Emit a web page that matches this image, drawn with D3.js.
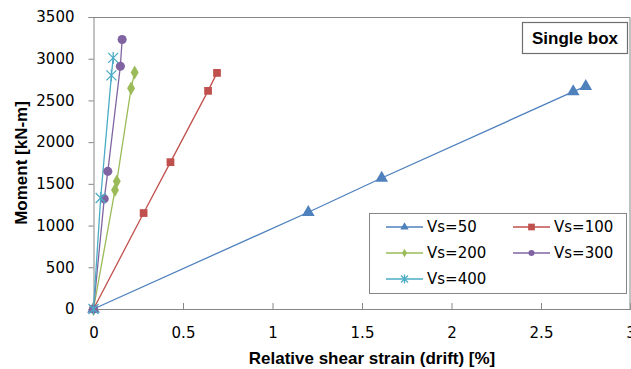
<!DOCTYPE html>
<html>
<head>
<meta charset="utf-8">
<script src="https://cdn.jsdelivr.net/npm/d3@7"></script>
<style>
  body { margin: 0; background: #fff; }
</style>
</head>
<body>
<div id="chart"></div>
<script>
// data
var seriesNames = ["Vs=50", "Vs=100", "Vs=200", "Vs=300", "Vs=400"];
var vs50  = [[0, 0], [1.20, 1160], [1.61, 1570], [2.68, 2605], [2.75, 2670]];
var vs100 = [[0, 0], [0.28, 1150], [0.43, 1760], [0.64, 2615], [0.69, 2830]];
var vs200 = [[0, 0], [0.12, 1425], [0.13, 1530], [0.21, 2645], [0.23, 2835]];
var vs300 = [[0, 0], [0.06, 1320], [0.08, 1650], [0.15, 2910], [0.16, 3230]];
var vs400 = [[0, 0], [0.04, 1330], [0.10, 2800], [0.11, 3010]];
var xTicks = [0, 0.5, 1, 1.5, 2, 2.5, 3];
var yTicks = [0, 500, 1000, 1500, 2000, 2500, 3000, 3500];

var colors = ["#4f81bd", "#c0504d", "#9bbb59", "#8064a2", "#4bacc6"];
var symbols = [d3.symbolTriangle, d3.symbolSquare, d3.symbolDiamond, d3.symbolCircle, d3.symbolCross];
var sizes = [70, 60, 55, 65, 60];
var legendSizes = [30, 45, 22, 30, 30];
var allData = [vs50, vs100, vs200, vs300, vs400];

var W = 631, H = 369;
var margin = { top: 17, right: 0.5, bottom: 60, left: 93.5 },
    width = W - margin.left - margin.right,
    height = H - margin.top - margin.bottom;

var svg = d3.select("#chart")
    .append("svg")
    .attr("width", W)
    .attr("height", H)
    .append("g")
    .attr("transform", "translate(" + margin.left + "," + margin.top + ")");

var x = d3.scaleLinear().domain([0, 3]).range([0, width]);
var y = d3.scaleLinear().domain([0, 3500]).range([height, 0]);

var axisColor = "#868686";
var tickFont = "'DejaVu Sans', Verdana, sans-serif";
var titleFont = "'Liberation Sans', Arial, sans-serif";

// frame top and right lines
svg.append("path")
    .attr("d", "M0,0.5H" + (width - 0.5) + "V" + height)
    .attr("fill", "none")
    .attr("stroke", axisColor);

// Y axis
var yAxis = svg.append("g")
    .call(d3.axisLeft(y).tickValues(yTicks).tickSize(5).tickPadding(14).tickFormat(d3.format("d")));
yAxis.select(".domain").attr("stroke", axisColor);
yAxis.selectAll(".tick line").attr("stroke", axisColor);
yAxis.selectAll("text")
    .style("font-family", tickFont)
    .style("font-size", "15px")
    .attr("fill", "#000");

// X axis
var xAxis = svg.append("g")
    .attr("transform", "translate(0," + height + ")")
    .call(d3.axisBottom(x).tickValues(xTicks).tickSize(-6).tickPadding(18).tickFormat(function (d) { return d; }));
xAxis.select(".domain").attr("stroke", axisColor);
xAxis.selectAll(".tick line").attr("stroke", axisColor);
xAxis.selectAll("text")
    .style("font-family", tickFont)
    .style("font-size", "15px")
    .attr("fill", "#000");

// lines
var line = d3.line()
    .x(function (d) { return x(d[0]); })
    .y(function (d) { return y(d[1]); });

allData.forEach(function (data, i) {
    svg.append("path")
        .datum(data)
        .attr("d", line)
        .attr("fill", "none")
        .attr("stroke", colors[i])
        .attr("stroke-width", 1.3);
});

// markers
function drawMarker(g, i, px, py, size, s) {
    if (i === 4) {
        // star marker (asterisk)
        var p = "M" + (px - s) + "," + (py - s) + "L" + (px + s) + "," + (py + s) +
                "M" + (px - s) + "," + (py + s) + "L" + (px + s) + "," + (py - s) +
                "M" + px + "," + (py - s - 1) + "L" + px + "," + (py + s + 1);
        g.append("path").attr("d", p).attr("stroke", colors[i]).attr("stroke-width", 1.3).attr("fill", "none");
    } else {
        g.append("path")
            .attr("d", d3.symbol().type(symbols[i]).size(size)())
            .attr("transform", "translate(" + px + "," + py + ")")
            .attr("fill", colors[i]);
    }
}

allData.forEach(function (data, i) {
    var g = svg.append("g");
    data.forEach(function (d) {
        drawMarker(g, i, x(d[0]), y(d[1]), sizes[i], 5);
    });
});

// legend
var legend = svg.append("g")
    .attr("transform", "translate(" + (369 - margin.left) + "," + (213 - margin.top) + ")");
legend.append("rect")
    .attr("x", 0.5).attr("y", 0.5)
    .attr("width", 257).attr("height", 80)
    .attr("fill", "#fff")
    .attr("stroke", axisColor);

seriesNames.forEach(function (name, i) {
    var col = i % 2, row = Math.floor(i / 2);
    var lx = 17 + col * 127, ly = 14 + row * 26;
    legend.append("line")
        .attr("x1", lx).attr("x2", lx + 37)
        .attr("y1", ly).attr("y2", ly)
        .attr("stroke", colors[i])
        .attr("stroke-width", 1.3);
    drawMarker(legend, i, lx + 18.5, ly, legendSizes[i], 3.5);
    legend.append("text")
        .attr("x", lx + 41)
        .attr("y", ly)
        .attr("dy", "0.36em")
        .style("font-family", tickFont)
        .style("font-size", "15px")
        .text(name);
});

// "Single box" label
var label = svg.append("g")
    .attr("transform", "translate(" + (522 - margin.left) + "," + (22 - margin.top) + ")");
label.append("rect")
    .attr("x", 0.5).attr("y", 0.5)
    .attr("width", 105).attr("height", 31)
    .attr("fill", "#fff")
    .attr("stroke", "#6e6e6e")
    .attr("stroke-width", 1.2);
label.append("text")
    .attr("x", 53)
    .attr("y", 16)
    .attr("dy", "0.36em")
    .attr("text-anchor", "middle")
    .style("font-family", titleFont)
    .style("font-weight", "bold")
    .style("font-size", "17px")
    .text("Single box");

// axis titles
svg.append("text")
    .attr("x", 372 - margin.left)
    .attr("y", height + 55)
    .attr("text-anchor", "middle")
    .style("font-family", titleFont)
    .style("font-weight", "bold")
    .style("font-size", "17px")
    .text("Relative shear strain (drift) [%]");

svg.append("text")
    .attr("transform", "translate(" + (27 - margin.left) + "," + (height / 2) + ") rotate(-90)")
    .attr("text-anchor", "middle")
    .style("font-family", titleFont)
    .style("font-weight", "bold")
    .style("font-size", "17px")
    .text("Moment [kN-m]");
</script>
</body>
</html>
